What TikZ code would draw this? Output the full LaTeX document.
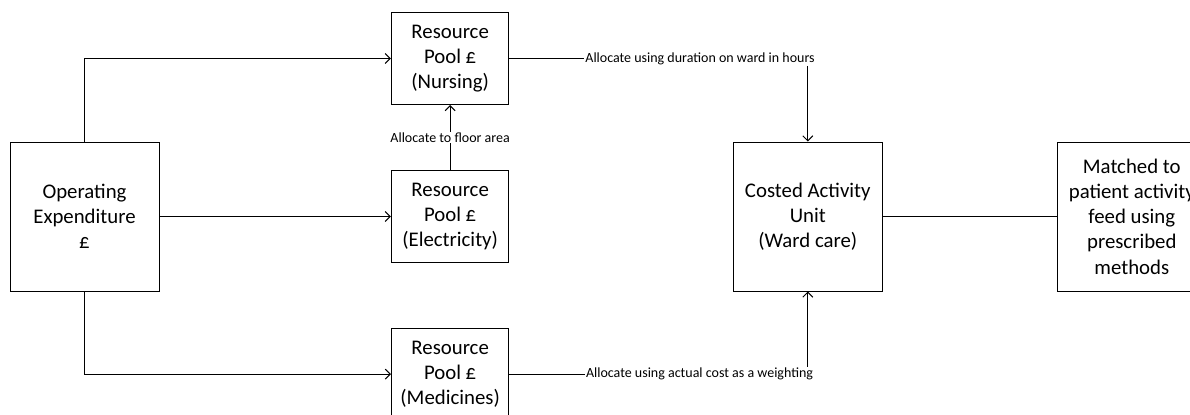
\documentclass[tikz,border=0pt]{standalone}
\usepackage{fontspec}
\setmainfont{Carlito}
\usetikzlibrary{positioning,arrows.meta}

\begin{document}
\begin{tikzpicture}[
    x=0.5pt, y=-0.5pt,
    bigbox/.style={rectangle, draw, line width=0.5pt, minimum width=74.5pt, minimum height=74.5pt, align=center, inner sep=1pt, font=\fontsize{10.4}{12.6}\selectfont},
    pool/.style={rectangle, draw, line width=0.5pt, minimum width=58.75pt, minimum height=46pt, align=center, inner sep=1pt, font=\fontsize{10.4}{12.4}\selectfont},
    arrow/.style={-{Straight Barb[length=2.5pt,width=5pt]}, line width=0.5pt},
    link/.style={line width=0.5pt},
    lbl/.style={font=\fontsize{7}{8}\selectfont, inner sep=0.5pt}
]
\useasboundingbox (0,0) rectangle (1190,414);

% Source
\node[bigbox] (opex) at (84.5,216.5) {Operating\\Expenditure\\£};

% Resource pools
\node[pool, right=115.7pt of opex] (elec) {Resource\\Pool £\\(Electricity)};
\node[pool, above=32.5pt of elec] (nursing) {Resource\\Pool £\\(Nursing)};
\node[pool, below=32.3pt of elec] (med) {Resource\\Pool £\\(Medicines)};

% Activity unit and patient feed
\node[bigbox, right=111.7pt of elec] (cost) {Costed Activity\\Unit\\(Ward care)};
\node[bigbox, right=87pt of cost] (match) {Matched to\\patient activity\\feed using\\prescribed\\methods};

% Expenditure into the pools
\draw[arrow] (opex.north) |- (nursing.west);
\draw[arrow] (opex) -- (elec);
\draw[arrow] (opex.south) |- (med.west);

% Electricity shared out to nursing
\draw[arrow] (elec.north) -- (nursing.south) node[midway, lbl, fill=white] {Allocate to floor area};

% Pools into the activity unit
\node[lbl, right=37.3pt of nursing] (dur) {Allocate using duration on ward in hours};
\draw[link] (nursing.east) -- (dur.west);
\draw[arrow] (dur.south -| cost.north) -- (cost.north);

\node[lbl, right=37.6pt of med] (wgt) {Allocate using actual cost as a weighting};
\draw[link] (med.east) -- (wgt.west);
\draw[arrow] (wgt.north -| cost.south) -- (cost.south);

% Feed matching
\draw[link] (cost) -- (match);

\end{tikzpicture}
\end{document}
